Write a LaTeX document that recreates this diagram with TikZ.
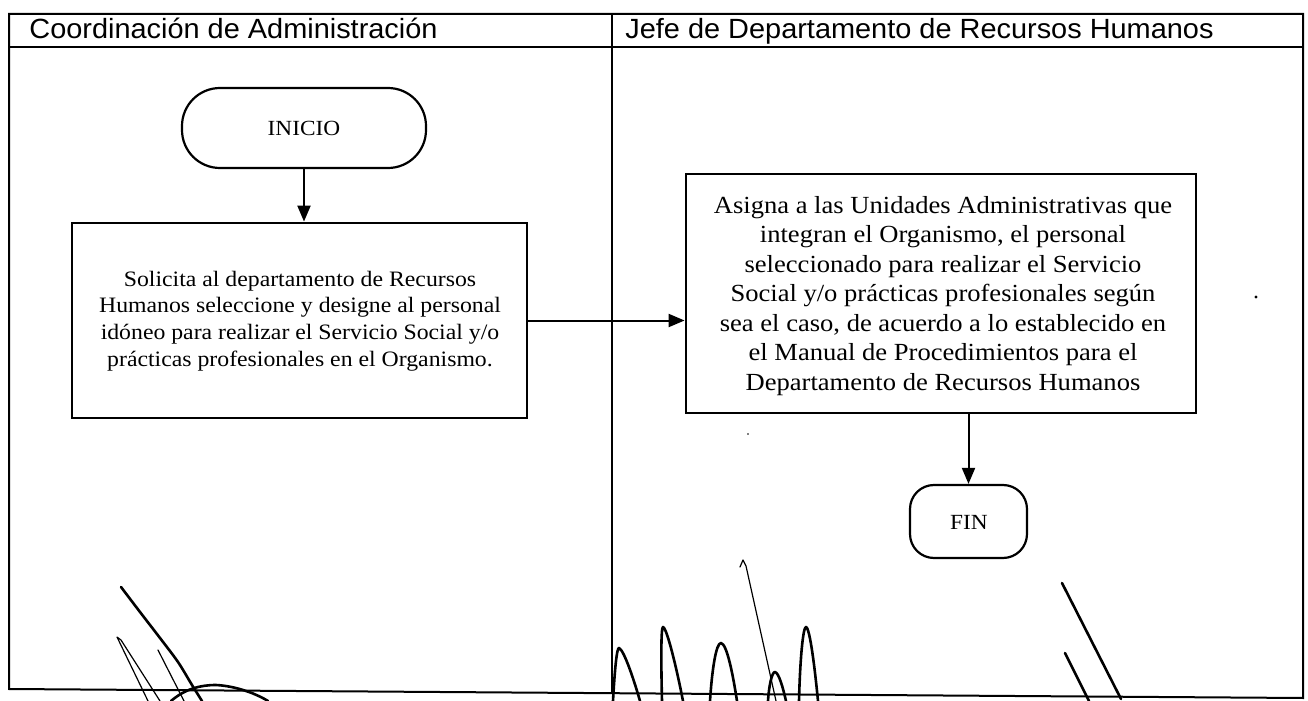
\documentclass[tikz,border=0pt]{standalone}
\usepackage{fontspec}
\setmainfont{Liberation Serif}[FakeStretch=1.08]
\newfontfamily\headfont{Liberation Sans}[FakeStretch=1.04]
\usetikzlibrary{arrows.meta}
\tikzset{
  frameline/.style={line width=1pt},
  thinline/.style={line width=0.7pt},
  procbox/.style={draw, rectangle, line width=1.4pt, inner sep=0pt},
  termbox/.style={draw, rectangle, line width=1.1pt, inner sep=0pt},
  arr/.style={line width=1pt, -{Triangle[length=8pt,width=6.5pt]}},
  headtext/.style={font=\headfont\fontsize{13.9}{15}\selectfont, inner sep=0pt},
  boxtexta/.style={align=center, inner sep=0pt, font=\fontsize{11}{13.35}\selectfont},
  boxtextb/.style={align=center, inner sep=0pt, font=\fontsize{12.3}{14.75}\selectfont},
  termtext/.style={font=\fontsize{10.8}{12}\selectfont},
  sig/.style={line width=1.3pt, line cap=round, line join=round},
  sigthin/.style={line width=0.6pt, line cap=round, line join=round},
}
\begin{document}
\begin{tikzpicture}[x=0.5pt, y=-0.5pt]
\useasboundingbox (0,0) rectangle (1308,701);
\fill[white] (0,0) rectangle (1308,701);

% frame
\coordinate (tl) at (9,14);
\coordinate (tr) at (1303,14);
\coordinate (bl) at (9,689);
\coordinate (br) at (1303,698);
\coordinate (hl) at (9,47);
\coordinate (hr) at (1303,47);
\coordinate (dt) at (612,14);
\coordinate (db) at (612,694);
\draw[frameline] (tl) -- (tr) -- (br) -- (bl) -- cycle;
\draw[frameline] (hl) -- (hr);
\draw[thinline] (dt) -- (db);

% headers
\node[headtext, anchor=base west] (h1) at (29,39) {Coordinación de Administración};
\node[headtext, anchor=base west] (h2) at (625,39) {Jefe de Departamento de Recursos Humanos};

% INICIO
\node[termbox, rounded corners=19pt, minimum width=122pt, minimum height=40pt] (inicio) at (304,128) {};
\node[termtext] (inicioT) at (304,128) {INICIO};

% box 1
\node[procbox, minimum width=227.5pt, minimum height=97.5pt] (b1) at (299.5,320.5) {};
\node[boxtexta] (b1t) at (300,321) {Solicita al departamento de Recursos\\Humanos seleccione y designe al personal\\idóneo para realizar el Servicio Social y/o\\prácticas profesionales en el Organismo.};

% box 2
\node[procbox, minimum width=255pt, minimum height=119.5pt] (b2) at (941,293.5) {};
\node[boxtextb] (b2t) at (943,296) {Asigna a las Unidades Administrativas que\\integran el Organismo, el personal\\seleccionado para realizar el Servicio\\Social y/o prácticas profesionales según\\sea el caso, de acuerdo a lo establecido en\\el Manual de Procedimientos para el\\Departamento de Recursos Humanos};

% FIN
\node[termbox, rounded corners=12pt, minimum width=58.5pt, minimum height=36.5pt] (fin) at (968.5,521.5) {};
\node[termtext] (finT) at (969,522) {FIN};

% connectors
\draw[arr] (inicio.south) -- (inicio.south |- b1.north);
\draw[arr] (b1.east) -- (b2.west |- b1.east);
\draw[arr] (b2.south -| fin.north) -- (fin.north);

% specks
\fill (1256,297) circle (1.6);
\fill (748,434) circle (0.9);

% signature left
\draw[sig] plot[smooth] coordinates {(121,587) (140,612) (160,638) (178,662) (192,685) (202,701)};
\draw[sigthin] (158,650) -- (184,701);
\draw[sigthin] (148,701) -- (117,637) -- (121,640) -- (160,701);
\draw[sig] (171,701) .. controls (185,689) and (200,685) .. (216,685) .. controls (235,686) and (255,693) .. (268,701);

% signature middle
\draw[sig] (613,701) .. controls (615,665) and (617,648) .. (619,648) .. controls (624,650) and (634,680) .. (640,701);
\draw[sig] (662,701) .. controls (661,660) and (661,627) .. (663,627) .. controls (667,628) and (677,670) .. (683,701);
\draw[sig] (710,701) .. controls (712,670) and (716,643) .. (721,643) .. controls (727,644) and (733,675) .. (737,701);
\draw[sig] (768,701) .. controls (769,685) and (772,672) .. (775,672) .. controls (779,673) and (783,688) .. (786,701);
\draw[sig] (799,701) .. controls (800,660) and (803,627) .. (806,627) .. controls (810,628) and (815,670) .. (818,701);
\draw[sigthin] (740,567) -- (743,560) -- (746,566) -- (776,701);

% signature right
\draw[sig] (1062,583) -- (1121,699);
\draw[sig] (1065,653) -- (1089,701);
\end{tikzpicture}
\end{document}
